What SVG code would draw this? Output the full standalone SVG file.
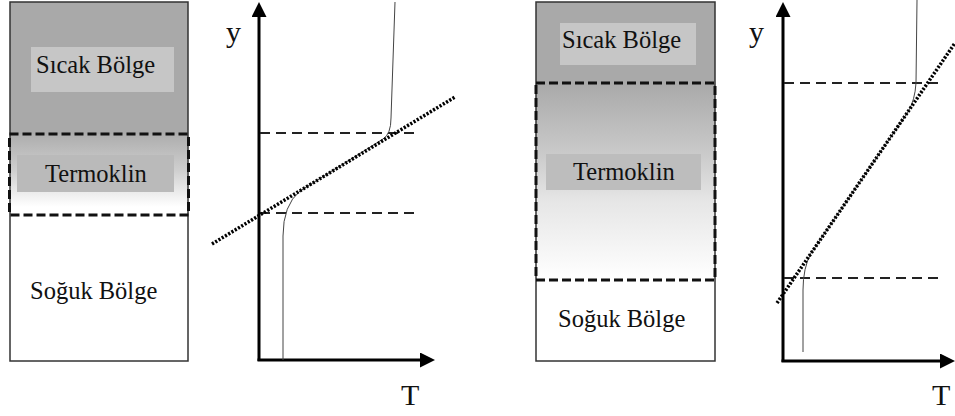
<svg xmlns="http://www.w3.org/2000/svg" width="955" height="416" viewBox="0 0 955 416">
<style>
.lbl{font-size:24.5px;fill:#111}
.ax{font-size:30px;fill:#111}
.box{fill:none;stroke:#333;stroke-width:1.5}
.dbox{fill:none;stroke:#111;stroke-width:3;stroke-dasharray:9 4}
.axis{stroke:#000;stroke-width:3;fill:none}
.hd{stroke:#222;stroke-width:2;stroke-dasharray:10 6;fill:none}
.dot{stroke:#000;stroke-width:3.5;stroke-dasharray:2.2 1.6;fill:none}
.curve{stroke:#444;stroke-width:1;fill:none}
</style>
<defs>
<marker id="arr" viewBox="0 0 15 15" markerWidth="15" markerHeight="15" refX="0" refY="7.5" orient="auto" markerUnits="userSpaceOnUse">
<path d="M0,0 L15,7.5 L0,15 z" fill="#000"/>
</marker>
<linearGradient id="gL" x1="0" y1="0" x2="0" y2="1">
<stop offset="0" stop-color="#adadad"/>
<stop offset="0.45" stop-color="#cfcfcf"/>
<stop offset="0.9" stop-color="#ffffff"/>
</linearGradient>
<linearGradient id="gR" x1="0" y1="0" x2="0" y2="1">
<stop offset="0" stop-color="#a9a9a9"/>
<stop offset="0.35" stop-color="#c9c9c9"/>
<stop offset="0.6" stop-color="#e6e6e6"/>
<stop offset="1" stop-color="#ffffff"/>
</linearGradient>
</defs>

<g font-family="'Liberation Serif', Tinos, 'Times New Roman', 'DejaVu Serif', serif">
<g id="left-column">
<rect x="10" y="2" width="178" height="132" fill="#a9a9a9"/>
<rect x="10" y="134" width="178" height="81" fill="url(#gL)"/>
<rect class="box" x="10" y="2" width="178" height="359"/>
</g>
<g id="left-sicak">
<rect x="31" y="47" width="143" height="45" fill="#c6c6c6"/>
<text class="lbl" x="36" y="73">Sıcak Bölge</text>
</g>
<g id="left-termoklin">
<rect x="17" y="155" width="157" height="37" fill="#bababa"/>
<text class="lbl" x="45" y="182">Termoklin</text>
<rect class="dbox" x="9.5" y="134" width="179" height="81"/>
</g>
<g id="left-soguk">
<text class="lbl" x="30" y="299">Soğuk Bölge</text>
</g>

<g id="right-column">
<rect x="536" y="2" width="179" height="81" fill="#a9a9a9"/>
<rect x="536" y="83" width="179" height="197" fill="url(#gR)"/>
<rect class="box" x="536" y="2" width="179" height="359"/>
</g>
<g id="right-sicak">
<rect x="560" y="23" width="136" height="42" fill="#c6c6c6"/>
<text class="lbl" x="562" y="48">Sıcak Bölge</text>
</g>
<g id="right-termoklin">
<rect x="546" y="154" width="155" height="36" fill="#bdbdbd"/>
<text class="lbl" x="573" y="180">Termoklin</text>
<rect class="dbox" x="536" y="83" width="179" height="197"/>
</g>
<g id="right-soguk">
<text class="lbl" x="558" y="327">Soğuk Bölge</text>
</g>

<g id="left-graph">
<text class="ax" x="226" y="42">y</text>
<text class="ax" x="401" y="405">T</text>
</g>
<g id="right-graph">
<text class="ax" x="749" y="42">y</text>
<text class="ax" x="932" y="405">T</text>
</g>
</g>

<g id="connectors">
<path class="axis" d="M259,361 L259,17" marker-end="url(#arr)"/>
<path class="axis" d="M257.5,360 L420,360" marker-end="url(#arr)"/>
<path class="hd" d="M260,133 L414,133"/>
<path class="hd" d="M260,213 L414,213"/>
<path class="curve" d="M283,360 L283,236 Q283,205 300,191 L383,139 Q391,134 391,118 L395,2"/>
<path class="dot" d="M212,244 L455,97"/>

<path class="axis" d="M783,362 L783,17" marker-end="url(#arr)"/>
<path class="axis" d="M781.5,361 L940,361" marker-end="url(#arr)"/>
<path class="hd" d="M784,83 L941,83"/>
<path class="hd" d="M784,278 L941,278"/>
<path class="curve" d="M803,352 L803,290 Q803,268 811,253 L908,112 Q915,100 916,83 L917,0"/>
<path class="dot" d="M777,303 L955,43"/>
</g>
</svg>
